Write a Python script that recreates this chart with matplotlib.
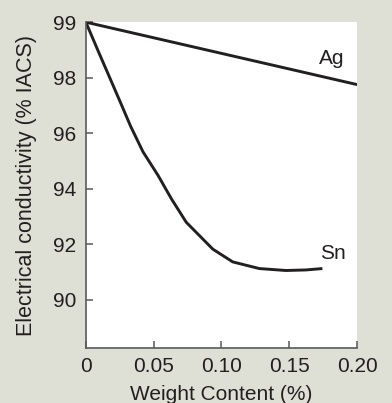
import matplotlib.pyplot as plt

plt.rcParams['font.family'] = ['Liberation Sans', 'DejaVu Sans']

# y positions on the drawn scale; the top tick is printed as "99" in the original
ytick_pos = [100, 98, 96, 94, 92, 90]
ytick_labels = ["99", "98", "96", "94", "92", "90"]
xtick_pos = [0, 0.05, 0.10, 0.15, 0.20]
xtick_labels = ["0", "0.05", "0.10", "0.15", "0.20"]

ag_x = [0.0, 0.20]
ag_y = [100.0, 97.75]

sn_x = [0.0, 0.0090, 0.0176, 0.0260, 0.0330, 0.0421, 0.0532, 0.0630,
        0.0740, 0.0936, 0.1083, 0.1279, 0.1475, 0.1622, 0.1744]
sn_y = [100.0, 98.97, 98.0, 97.05, 96.25, 95.33, 94.48, 93.64,
        92.79, 91.82, 91.36, 91.12, 91.05, 91.07, 91.12]

bg = "#dfe0d5"
ink = "#231f20"


def main():
    fig = plt.figure(figsize=(3.92, 4.03), dpi=100, facecolor=bg)
    ax = fig.add_axes([0.219, 0.136, 0.692, 0.809])
    ax.set_facecolor("white")

    ax.plot(ag_x, ag_y, color=ink, lw=2.1, solid_capstyle="butt")
    ax.plot(sn_x, sn_y, color=ink, lw=2.1, solid_capstyle="butt",
            solid_joinstyle="round")

    ax.text(0.1816, 98.68, "Ag", fontsize=15, color=ink, ha="center", va="center")
    ax.text(0.1824, 91.68, "Sn", fontsize=15, color=ink, ha="center", va="center")

    ax.set_xlim(0, 0.20)
    ax.set_ylim(88.25, 100.0)
    ax.set_xticks(xtick_pos, xtick_labels)
    ax.set_yticks(ytick_pos, ytick_labels)

    for side in ["top", "right"]:
        ax.spines[side].set_visible(False)
    for side in ["left", "bottom"]:
        ax.spines[side].set_color("#58595b")
        ax.spines[side].set_linewidth(1.2)

    ax.tick_params(direction="in", length=5, width=1.1, color="#58595b",
                   labelsize=15, labelcolor=ink)
    ax.tick_params(axis="y", pad=7)
    ax.tick_params(axis="x", pad=6)

    ax.set_xlabel("Weight Content (%)", fontsize=15, color=ink, labelpad=7)
    ax.set_ylabel("Electrical conductivity (% IACS)", fontsize=15.5, color=ink,
                  labelpad=11)

    fig.savefig("out.png", dpi=100, facecolor=bg)


if __name__ == "__main__":
    main()
